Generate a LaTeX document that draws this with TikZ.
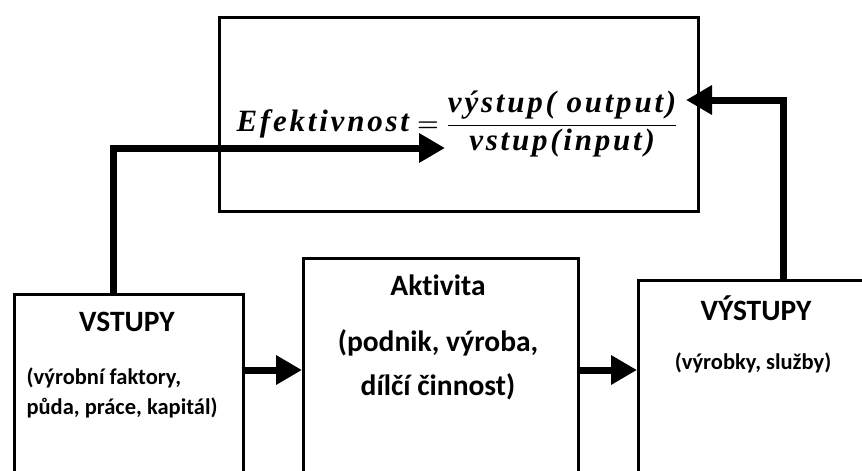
\documentclass[tikz,border=0pt]{standalone}
\usepackage{fontspec}
\setmainfont{Carlito}[Ligatures=NoCommon]
\newfontfamily\vzorecfont{Liberation Serif}[LetterSpace=9]
\usetikzlibrary{positioning,arrows.meta}

\tikzset{
	block/.style={rectangle, draw=black, line width=3pt, fill=white, anchor=north west, inner sep=0pt},
	flow/.style={line width=7pt, -{Triangle[length=26pt,width=28pt]}},
	heading/.style={font=\fontsize{29.5}{44}\selectfont\bfseries},
	detail/.style={font=\fontsize{22.5}{30}\selectfont\bfseries},
	formula/.style={font=\fontsize{31}{36}\selectfont},
}
\newcommand{\vz}[1]{\hbox{\vzorecfont\bfseries\itshape #1}}

\begin{document}
\begin{tikzpicture}[x=1pt, y=-1pt]
	\useasboundingbox (0,0) rectangle (862,471);
	\clip (0,0) rectangle (862,471);

	\node (vzorec) [block, minimum width=479pt, minimum height=194pt] at (218,16) {};
	\node (vstupy) [block, minimum width=229pt, minimum height=240pt] at (13,293) {};
	\node (aktivita) [block, minimum width=275pt, minimum height=260pt] at (302,257) {};
	\node (vystupy) [block, minimum width=300pt, minimum height=240pt] at (637,279) {};

	\node (vzorecText) [formula] at (457,124) {{\boldmath
		$\displaystyle \vz{Efektivnost} = {\vz{výstup( output)}\over\vz{vstup(input)}}$}};

	\node (vstupyNadpis) [heading] at (127,322) {VSTUPY};
	\node (vstupyText) [detail, align=left, anchor=west] at (23,393) {(výrobní faktory,\\půda, práce, kapitál)};

	\node (aktivitaNadpis) [heading] at (438,285) {Aktivita};
	\node (aktivitaText) [heading, align=center] at (438,365) {(podnik, výroba,\\dílčí činnost)};

	\node (vystupyNadpis) [heading] at (756,308) {VÝSTUPY};
	\node (vystupyText) [detail] at (753,363) {(výrobky, služby)};

	\coordinate (uroven) at (0,370);
	\coordinate (odbockaL) at (113,0);
	\coordinate (odbockaP) at (783,0);
	\coordinate (vstupVzorec) at (445,148);
	\coordinate (vystupVzorec) at (686,100);

	\draw[flow] (vstupy.east |- uroven) -- (aktivita.west |- uroven);
	\draw[flow] (aktivita.east |- uroven) -- (vystupy.west |- uroven);
	\draw[flow] (vstupy.north -| odbockaL) |- (vstupVzorec);
	\draw[flow] (vystupy.north -| odbockaP) |- (vystupVzorec);
\end{tikzpicture}
\end{document}
